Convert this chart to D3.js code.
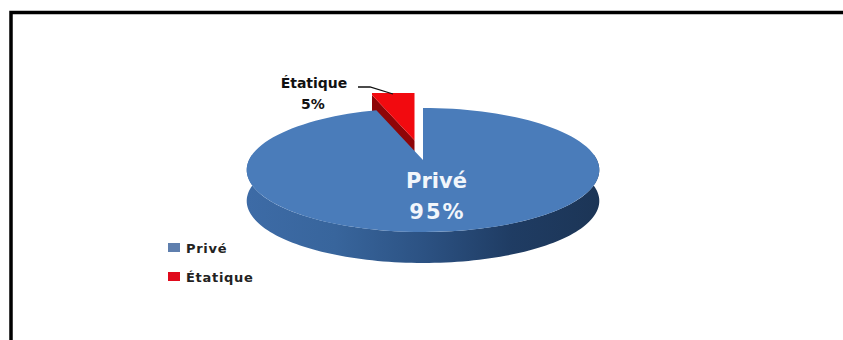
<!DOCTYPE html>
<html>
<head>
<meta charset="utf-8">
<script src="https://d3js.org/d3.v7.min.js"></script>
<style>
html,body{margin:0;padding:0;background:#fff;overflow:hidden;}
svg{display:block;font-family:"DejaVu Sans",sans-serif;}
</style>
</head>
<body>
<script>
const categories = ["Privé", "Étatique"];
const shares = [95, 5];
const sliceColors = ["#4a7cba", "#f20a0f"];
const wallStops = ["#3d6ba6", "#38659c", "#2c5283", "#1f3c63", "#1c3556"];

const svg = d3.select("body").append("svg").attr("width", 843).attr("height", 340);

// Chart frame, running off the right and bottom of the page
svg.append("rect").attr("x", 11).attr("y", 12.5).attr("width", 900).attr("height", 400)
  .attr("fill", "#fff").attr("stroke", "#000").attr("stroke-width", 3.5);

// Tilted disc: a homography maps the unit circle onto the screen
const disc = { cx: 423, cy: 160, a: 174, b: 60.4, p: 0.161, depth: 31 };
const project = (angle, r = 1, dx = 0, dy = 0) => {
  const u = r * Math.sin(angle), v = -r * Math.cos(angle);
  const w = 1 - disc.p * v;
  return [disc.cx + disc.a * u / w + dx, disc.cy + disc.b * v / w + dy];
};

// Clockwise from twelve o'clock, the large slice first
const slices = d3.pie().sort(null).value(d => d)(shares);
const line = d3.line();
const arcPoints = (a0, a1, dx = 0, dy = 0) =>
  d3.range(0, 121).map(i => project(a0 + (a1 - a0) * i / 120, 1, dx, dy));
const sector = (s, dx = 0, dy = 0) =>
  line([project(0, 0, dx, dy), ...arcPoints(s.startAngle, s.endAngle, dx, dy)]) + "Z";

const defs = svg.append("defs");
const wallGrad = defs.append("linearGradient").attr("id", "wall")
  .attr("gradientUnits", "userSpaceOnUse")
  .attr("x1", 247).attr("x2", 600).attr("y1", 0).attr("y2", 0);
wallStops.forEach((c, i) => wallGrad.append("stop")
  .attr("offset", i / (wallStops.length - 1)).attr("stop-color", c));
defs.append("clipPath").attr("id", "wedgeClip").append("rect")
  .attr("x", 372).attr("y", 93).attr("width", 42.5).attr("height", 70);

// Pulled-out slice, trimmed by the plot area and tucked behind the main disc
const pulled = slices[1];
const off = { x: -6, y: -17 };
const wedge = svg.append("g").attr("clip-path", "url(#wedgeClip)");
wedge.append("path")
  .attr("d", line([
    project(0, 0, off.x, off.y),
    project(pulled.startAngle, 1, off.x, off.y),
    project(pulled.startAngle, 1, off.x, off.y + disc.depth),
    project(0, 0, off.x, off.y + disc.depth)
  ]) + "Z")
  .attr("fill", "#8e0508");
wedge.append("path").attr("d", sector(pulled, off.x, off.y)).attr("fill", sliceColors[1]);

// Outer wall of the main disc, then its top face
const right = Math.PI / 2 - 0.09, left = 3 * Math.PI / 2 + 0.09;
svg.append("path")
  .attr("d", line([...arcPoints(right, left), ...arcPoints(left, right, 0, disc.depth)]) + "Z")
  .attr("fill", "url(#wall)");
svg.append("path").attr("d", sector(slices[0])).attr("fill", sliceColors[0]);

// Slice labels
svg.append("text").attr("x", 436.5).attr("y", 188).attr("text-anchor", "middle")
  .attr("fill", "#f2f6fb").attr("font-size", 21).attr("font-weight", 700)
  .text(categories[0]);
svg.append("text").attr("x", 437.5).attr("y", 219).attr("text-anchor", "middle")
  .attr("fill", "#f2f6fb").attr("font-size", 21).attr("font-weight", 700)
  .attr("letter-spacing", 2).text(shares[0] + "%");
svg.append("text").attr("x", 314).attr("y", 88).attr("text-anchor", "middle")
  .attr("fill", "#111").attr("font-size", 14).attr("font-weight", 700)
  .text(categories[1]);
svg.append("text").attr("x", 313).attr("y", 109).attr("text-anchor", "middle")
  .attr("fill", "#111").attr("font-size", 14).attr("font-weight", 700)
  .text(shares[1] + "%");
svg.append("path").attr("d", "M358,87L370,87L393,94").attr("fill", "none")
  .attr("stroke", "#111").attr("stroke-width", 1.3);

// Legend
const legendY = d3.scalePoint().domain(categories).range([247.5, 276.5]);
const legend = svg.append("g").selectAll("g").data(categories).join("g")
  .attr("transform", d => `translate(168,${legendY(d)})`);
legend.append("rect").attr("y", -4.5).attr("width", 12).attr("height", 9)
  .attr("fill", (d, i) => i === 0 ? "#5f7fae" : "#e00a1c");
legend.append("text").attr("x", 18).attr("y", 5).attr("font-size", 13)
  .attr("font-weight", 700).attr("letter-spacing", 0.7).attr("fill", "#222").text(d => d);
</script>
</body>
</html>
